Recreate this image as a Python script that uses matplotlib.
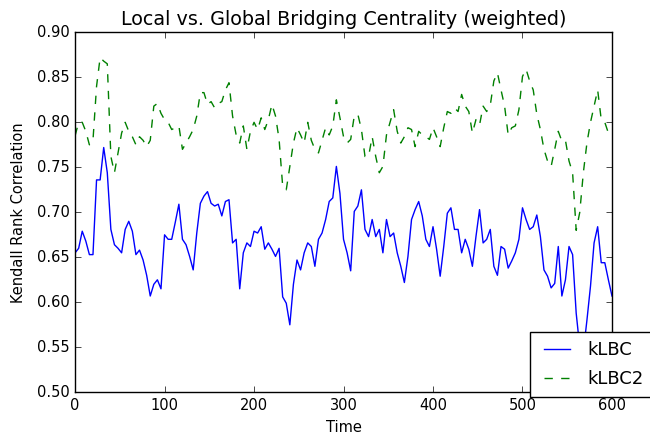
"""Local vs. global bridging centrality: Kendall rank correlation over time."""
import matplotlib

matplotlib.use("Agg")
import matplotlib.pyplot as plt  # noqa: E402
import numpy as np  # noqa: E402

time = np.arange(0, 601, 4)

klbc = [
    0.655, 0.660, 0.679, 0.668, 0.653, 0.653, 0.736, 0.736, 0.772, 0.744,
    0.681, 0.664, 0.660, 0.655, 0.681, 0.690, 0.679, 0.653, 0.658, 0.647,
    0.630, 0.607, 0.620, 0.625, 0.615, 0.675, 0.670, 0.670, 0.689, 0.709,
    0.670, 0.664, 0.651, 0.636, 0.677, 0.710, 0.718, 0.723, 0.710, 0.707,
    0.709, 0.696, 0.712, 0.714, 0.666, 0.670, 0.615, 0.655, 0.666, 0.662,
    0.679, 0.677, 0.684, 0.659, 0.666, 0.659, 0.651, 0.660, 0.606, 0.599,
    0.575, 0.620, 0.647, 0.636, 0.655, 0.666, 0.662, 0.640, 0.670, 0.677,
    0.692, 0.712, 0.716, 0.751, 0.721, 0.670, 0.655, 0.635, 0.701, 0.707,
    0.725, 0.681, 0.673, 0.692, 0.673, 0.681, 0.655, 0.692, 0.673, 0.677,
    0.655, 0.640, 0.622, 0.651, 0.692, 0.703, 0.712, 0.696, 0.670, 0.662,
    0.684, 0.659, 0.629, 0.662, 0.699, 0.705, 0.681, 0.681, 0.655, 0.670,
    0.659, 0.640, 0.673, 0.703, 0.666, 0.670, 0.681, 0.640, 0.630, 0.662,
    0.659, 0.638, 0.646, 0.655, 0.670, 0.705, 0.692, 0.681, 0.684, 0.697,
    0.673, 0.636, 0.629, 0.616, 0.621, 0.662, 0.607, 0.625, 0.662, 0.653,
    0.588, 0.550, 0.545, 0.580, 0.618, 0.666, 0.684, 0.644, 0.644, 0.625,
    0.607,
]

klbc2 = [
    0.785, 0.800, 0.800, 0.790, 0.775, 0.780, 0.840, 0.872, 0.868, 0.865,
    0.762, 0.744, 0.766, 0.788, 0.800, 0.790, 0.784, 0.775, 0.784, 0.780,
    0.773, 0.780, 0.818, 0.821, 0.810, 0.803, 0.800, 0.792, 0.794, 0.796,
    0.770, 0.777, 0.784, 0.792, 0.807, 0.833, 0.833, 0.820, 0.823, 0.816,
    0.821, 0.823, 0.836, 0.844, 0.807, 0.786, 0.777, 0.796, 0.770, 0.790,
    0.800, 0.792, 0.805, 0.792, 0.803, 0.820, 0.807, 0.781, 0.729, 0.725,
    0.751, 0.777, 0.794, 0.786, 0.777, 0.800, 0.780, 0.770, 0.766, 0.780,
    0.794, 0.786, 0.796, 0.825, 0.805, 0.784, 0.777, 0.781, 0.807, 0.809,
    0.792, 0.762, 0.762, 0.784, 0.762, 0.744, 0.751, 0.786, 0.800, 0.814,
    0.790, 0.777, 0.784, 0.794, 0.792, 0.773, 0.790, 0.786, 0.784, 0.781,
    0.794, 0.784, 0.773, 0.794, 0.812, 0.810, 0.816, 0.812, 0.831, 0.818,
    0.812, 0.788, 0.803, 0.797, 0.818, 0.812, 0.819, 0.846, 0.855, 0.836,
    0.818, 0.786, 0.794, 0.796, 0.814, 0.851, 0.859, 0.846, 0.836, 0.809,
    0.792, 0.770, 0.757, 0.751, 0.770, 0.790, 0.779, 0.780, 0.757, 0.744,
    0.680, 0.700, 0.744, 0.777, 0.800, 0.818, 0.836, 0.803, 0.800, 0.788,
    0.788,
]

plt.style.use("classic")
plt.rcParams["xtick.labelsize"] = 10.5
plt.rcParams["ytick.labelsize"] = 10.5

fig = plt.figure(figsize=(6.5, 4.37), dpi=100, facecolor="white")
ax = fig.add_axes([0.1155, 0.1023, 0.826, 0.8237])

ax.plot(time, klbc, "b-", label="kLBC")
ax.plot(time, klbc2, "g--", label="kLBC2")

ax.set_xlim(0, 600)
ax.set_ylim(0.5, 0.9)
ax.set_title("Local vs. Global Bridging Centrality (weighted)", fontsize=13.8)
ax.set_xlabel("Time", fontsize=10.5)
ax.set_ylabel("Kendall Rank Correlation", fontsize=10.5, labelpad=8)

# legend sits half outside the axes, bottom right
leg = ax.legend(loc="lower left", bbox_to_anchor=(530 / 650, 1 - 397 / 437),
                bbox_transform=fig.transFigure, borderaxespad=0.0,
                fontsize=13, handlelength=2.0, handletextpad=0.7,
                labelspacing=0.6, borderpad=0.5)
leg.get_frame().set_facecolor("white")

fig.savefig("out.png", dpi=100, facecolor="white")
